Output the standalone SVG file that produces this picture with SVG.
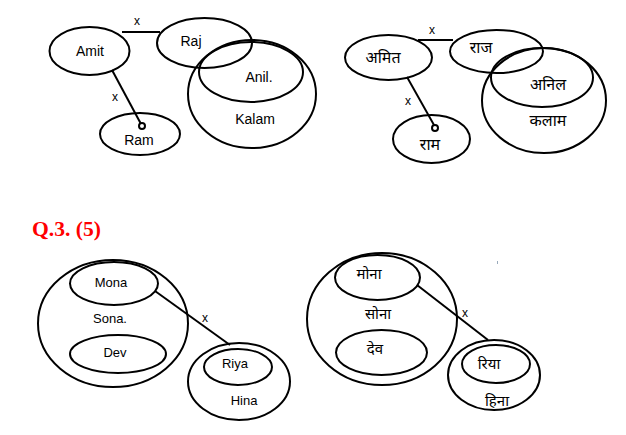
<svg xmlns="http://www.w3.org/2000/svg" width="626" height="435" viewBox="0 0 626 435">
<style>
.e{fill:none;stroke:#000;stroke-width:2}
.c{stroke:#000;stroke-width:2;fill:none}
.t{font-family:"Liberation Sans",Arial,sans-serif;font-size:14px;fill:#000;text-anchor:middle}
.s{font-size:13px}
.h{font-family:"Noto Sans","Noto Sans Devanagari","Liberation Sans",sans-serif;font-size:16px;fill:#000;text-anchor:middle}
.hs{font-size:15px}
.x{font-family:"Liberation Sans",Arial,sans-serif;font-size:12px;fill:#000;text-anchor:middle}
.q{font-family:"Liberation Serif","Times New Roman",serif;font-weight:bold;font-size:21px;fill:#f00}
</style>
<rect width="626" height="435" fill="#fff"/>
<g id="connectors">
<line class="c" x1="122" y1="32" x2="160" y2="32"/>
<line class="c" x1="112" y1="70" x2="141" y2="124"/>
<circle cx="142" cy="126" r="3" fill="#fff" stroke="#000" stroke-width="2"/>
<text class="x" x="137" y="25">x</text>
<text class="x" x="115" y="101">x</text>
<line class="c" x1="418" y1="40" x2="453" y2="40"/>
<line class="c" x1="407" y1="77" x2="434" y2="125"/>
<circle cx="435" cy="128" r="3" fill="#fff" stroke="#000" stroke-width="2"/>
<text class="x" x="432" y="34">x</text>
<text class="x" x="408" y="105">x</text>
<line class="c" x1="155" y1="291" x2="230" y2="345"/>
<text class="x" x="205" y="322">x</text>
<line class="c" x1="417" y1="285" x2="488" y2="340"/>
<text class="x" x="465" y="317">x</text>
</g>
<g id="amit"><ellipse class="e" cx="89.5" cy="51" rx="40" ry="24"/><text class="t" x="90" y="56">Amit</text></g>
<g id="raj"><ellipse class="e" cx="204.5" cy="43" rx="47.5" ry="25"/><text class="t" x="191" y="46">Raj</text></g>
<g id="kalam"><ellipse class="e" cx="252" cy="94" rx="64" ry="54"/><text class="t" x="255" y="124">Kalam</text></g>
<g id="anil"><ellipse class="e" cx="251" cy="72" rx="52" ry="30"/><text class="t" x="259" y="82">Anil.</text></g>
<g id="ram"><ellipse class="e" cx="140" cy="134" rx="40" ry="21"/><text class="t" x="139" y="145">Ram</text></g>

<g id="amit-hi"><ellipse class="e" cx="388.5" cy="57.5" rx="43.5" ry="22.5"/><text class="h" x="383" y="63">अमित</text></g>
<g id="raj-hi"><ellipse class="e" cx="496.5" cy="51.5" rx="46.5" ry="21.5"/><text class="h" x="481" y="53">राज</text></g>
<g id="kalam-hi"><ellipse class="e" cx="544" cy="100.5" rx="62" ry="52.5"/><text class="h" x="548" y="126">कलाम</text></g>
<g id="anil-hi"><ellipse class="e" cx="542" cy="77.5" rx="51" ry="29.5"/><text class="h" x="548" y="90">अनिल</text></g>
<g id="ram-hi"><ellipse class="e" cx="431.5" cy="139" rx="38.5" ry="24"/><text class="h" x="430" y="150">राम</text></g>

<text class="q" x="32" y="236" textLength="69" lengthAdjust="spacingAndGlyphs">Q.3. (5)</text>

<g id="sona"><ellipse class="e" cx="113" cy="323.5" rx="75" ry="63.5"/><text class="t s" x="110" y="323">Sona.</text></g>
<g id="mona"><ellipse class="e" cx="114" cy="283.5" rx="44" ry="21.5"/><text class="t s" x="111" y="287">Mona</text></g>
<g id="dev"><ellipse class="e" cx="118" cy="354" rx="48" ry="19"/><text class="t s" x="115" y="357">Dev</text></g>
<g id="hina"><ellipse class="e" cx="239" cy="381.5" rx="51" ry="38.5"/><text class="t s" x="244" y="405">Hina</text></g>
<g id="riya"><ellipse class="e" cx="238" cy="367" rx="34" ry="18"/><text class="t s" x="235" y="368">Riya</text></g>

<g id="sona-hi"><ellipse class="e" cx="382" cy="319" rx="75" ry="66"/><text class="h hs" x="378" y="319">सोना</text></g>
<g id="mona-hi"><ellipse class="e" cx="377.5" cy="277.5" rx="42.5" ry="22.5"/><text class="h hs" x="369" y="279">मोना</text></g>
<g id="dev-hi"><ellipse class="e" cx="381.5" cy="352.5" rx="45.5" ry="22.5"/><text class="h hs" x="375" y="354">देव</text></g>
<g id="hina-hi"><ellipse class="e" cx="494" cy="375" rx="46" ry="35"/><text class="h hs" x="497" y="406">हिना</text></g>
<g id="riya-hi"><ellipse class="e" cx="496" cy="364" rx="34" ry="19"/><text class="h hs" x="489" y="369">रिया</text></g>
<rect x="497" y="261" width="1" height="3" fill="#9ab"/>
</svg>
